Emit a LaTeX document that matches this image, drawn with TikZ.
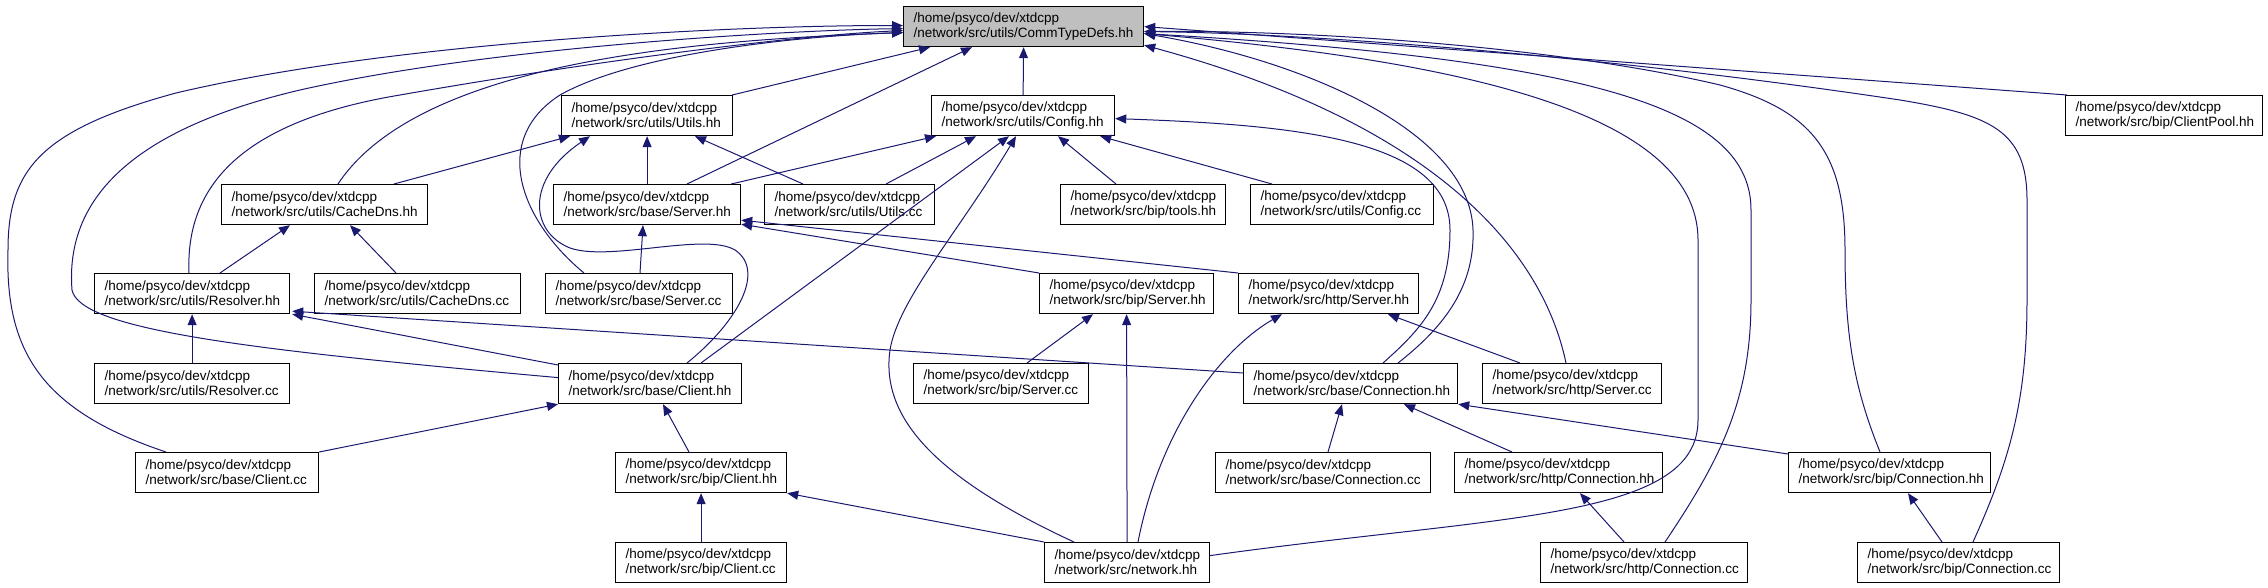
\documentclass[tikz,border=0pt]{standalone}
\usepackage{fontspec}
\usepackage{tikz}
\usetikzlibrary{arrows.meta,calc}
\newfontfamily\graphfont{Liberation Sans}
\newcommand{\filefont}{\graphfont\fontsize{13.5pt}{15pt}\selectfont}
\definecolor{edgeblue}{RGB}{25,25,112}
\definecolor{maingray}{gray}{0.75}

\begin{document}
\begin{tikzpicture}[x=1pt,y=-1pt,
  file/.style={draw=black,line width=1.2pt,anchor=north west,minimum height=40pt,
    inner xsep=10pt,inner ysep=0pt,text width=#1,align=left,font=\filefont},
  dep/.style={draw=edgeblue,line width=1pt,-{Triangle[length=11pt,width=9pt]}}]
\useasboundingbox (0,0) rectangle (2268,588);

% row 1
\node[file=220pt,fill=maingray] (ctd) at (903,6) {/home/psyco/dev/xtdcpp\\/network/src/utils/CommTypeDefs.hh};
% row 2
\node[file=151pt] (utilshh) at (561,95) {/home/psyco/dev/xtdcpp\\/network/src/utils/Utils.hh};
\node[file=163pt] (confighh) at (931,95) {/home/psyco/dev/xtdcpp\\/network/src/utils/Config.hh};
\node[file=177pt] (pool) at (2065,95) {/home/psyco/dev/xtdcpp\\/network/src/bip/ClientPool.hh};
% row 3
\node[file=186pt] (cachehh) at (221,184) {/home/psyco/dev/xtdcpp\\/network/src/utils/CacheDns.hh};
\node[file=167pt] (bserverhh) at (553,184) {/home/psyco/dev/xtdcpp\\/network/src/base/Server.hh};
\node[file=150pt] (utilscc) at (764,184) {/home/psyco/dev/xtdcpp\\/network/src/utils/Utils.cc};
\node[file=145pt] (tools) at (1060,184) {/home/psyco/dev/xtdcpp\\/network/src/bip/tools.hh};
\node[file=163pt] (configcc) at (1250,184) {/home/psyco/dev/xtdcpp\\/network/src/utils/Config.cc};
% row 4
\node[file=175pt] (reshh) at (94,273) {/home/psyco/dev/xtdcpp\\/network/src/utils/Resolver.hh};
\node[file=186pt] (cachecc) at (314,273) {/home/psyco/dev/xtdcpp\\/network/src/utils/CacheDns.cc};
\node[file=167pt] (bservercc) at (545,273) {/home/psyco/dev/xtdcpp\\/network/src/base/Server.cc};
\node[file=154pt] (pserverhh) at (1039,273) {/home/psyco/dev/xtdcpp\\/network/src/bip/Server.hh};
\node[file=160pt] (hserverhh) at (1238,273) {/home/psyco/dev/xtdcpp\\/network/src/http/Server.hh};
% row 5
\node[file=175pt] (rescc) at (94,363) {/home/psyco/dev/xtdcpp\\/network/src/utils/Resolver.cc};
\node[file=163pt] (bclienthh) at (558,363) {/home/psyco/dev/xtdcpp\\/network/src/base/Client.hh};
\node[file=155pt] (pservercc) at (913,363) {/home/psyco/dev/xtdcpp\\/network/src/bip/Server.cc};
\node[file=194pt] (bconnhh) at (1243,363) {/home/psyco/dev/xtdcpp\\/network/src/base/Connection.hh};
\node[file=159pt] (hservercc) at (1482,363) {/home/psyco/dev/xtdcpp\\/network/src/http/Server.cc};
% row 6
\node[file=163pt] (bclientcc) at (135,452) {/home/psyco/dev/xtdcpp\\/network/src/base/Client.cc};
\node[file=151pt] (pclienthh) at (615,452) {/home/psyco/dev/xtdcpp\\/network/src/bip/Client.hh};
\node[file=195pt] (bconncc) at (1215,452) {/home/psyco/dev/xtdcpp\\/network/src/base/Connection.cc};
\node[file=188pt] (hconnhh) at (1454,452) {/home/psyco/dev/xtdcpp\\/network/src/http/Connection.hh};
\node[file=182pt] (pconnhh) at (1788,452) {/home/psyco/dev/xtdcpp\\/network/src/bip/Connection.hh};
% row 7
\node[file=151pt] (pclientcc) at (615,542) {/home/psyco/dev/xtdcpp\\/network/src/bip/Client.cc};
\node[file=145pt] (network) at (1044,542) {/home/psyco/dev/xtdcpp\\/network/src/network.hh};
\node[file=187pt] (hconncc) at (1540,542) {/home/psyco/dev/xtdcpp\\/network/src/http/Connection.cc};
\node[file=182pt] (pconncc) at (1857,542) {/home/psyco/dev/xtdcpp\\/network/src/bip/Connection.cc};

% includes of CommTypeDefs.hh
\draw[dep] ($(utilshh.north east)+(-1,0)$) -- ($(ctd.south west)+(27,0)$);
\draw[dep] (confighh.north) -- (ctd.south);
\draw[dep] ($(bserverhh.north west)+(134,0)$) -- ($(ctd.south west)+(69,0)$);
\draw[dep] ($(pool.north west)+(2,0)$) -- (ctd.east);
\draw[dep] ($(cachehh.north west)+(117,0)$) .. controls (420,60) and (700,40) .. ($(ctd.west)+(0,6)$);
\draw[dep] ($(reshh.north west)+(95,0)$) .. controls (185,180) and (250,120) .. (400,95)
  .. controls (600,60) and (800,35) .. ($(ctd.west)+(0,4)$);
\draw[dep] ($(bclienthh.west)+(0,-6)$) .. controls (250,350) and (80,330) .. (72,290)
  .. controls (65,200) and (130,130) .. (300,90) .. controls (500,45) and (800,30) .. ($(ctd.west)+(0,2)$);
\draw[dep] ($(bclientcc.north west)+(31,0)$) .. controls (40,410) and (5,350) .. (8,250)
  .. controls (8,170) and (40,130) .. (176,93) .. controls (400,40) and (750,25) .. ($(ctd.west)+(0,-1)$);
\draw[dep] ($(bservercc.north west)+(39,0)$) .. controls (520,220) and (490,140) .. (560,95)
  .. controls (640,50) and (820,35) .. ($(ctd.west)+(0,6)$);
\draw[dep] ($(bconnhh.north west)+(155,0)$) .. controls (1440,330) and (1475,290) .. (1473,230)
  .. controls (1470,130) and (1300,60) .. ($(ctd.east)+(0,7)$);
\draw[dep] ($(hservercc.north west)+(84,0)$) .. controls (1540,240) and (1420,120) .. ($(ctd.south east)+(0,-2)$);
\draw[dep] ($(network.east)+(0,-7)$) .. controls (1500,515) and (1698,520) .. (1698,420) -- (1698,240)
  .. controls (1698,110) and (1450,60) .. ($(ctd.east)+(0,7)$);
\draw[dep] ($(hconncc.north west)+(125,0)$) .. controls (1720,460) and (1751,400) .. (1751,300) -- (1751,210)
  .. controls (1751,110) and (1600,60) .. ($(ctd.east)+(0,7)$);
\draw[dep] ($(pconnhh.north west)+(92,0)$) .. controls (1855,390) and (1845,340) .. (1845,250)
  .. controls (1845,150) and (1810,110) .. (1720,85) .. controls (1550,45) and (1300,30) .. ($(ctd.east)+(0,5)$);
\draw[dep] ($(pconncc.north west)+(116,0)$) .. controls (2010,460) and (2027,400) .. (2027,300) -- (2027,200)
  .. controls (2027,130) and (1990,115) .. (1900,100) .. controls (1600,55) and (1300,33) .. ($(ctd.east)+(0,5)$);

% Utils.hh and Config.hh
\draw[dep] ($(cachehh.north west)+(173,0)$) -- ($(utilshh.south west)+(9,0)$);
\draw[dep] (bserverhh.north) -- (utilshh.south);
\draw[dep] ($(utilscc.north west)+(39,0)$) -- ($(utilshh.south west)+(134,0)$);
\draw[dep] ($(bclienthh.north west)+(129,0)$) .. controls (740,320) and (765,270) .. (735,250)
  .. controls (705,232) and (610,262) .. (570,248) .. controls (530,232) and (525,180) .. ($(utilshh.south west)+(29,0)$);
\draw[dep] ($(bserverhh.north east)+(-10,0)$) -- ($(confighh.south west)+(5,0)$);
\draw[dep] ($(utilscc.north west)+(122,0)$) -- ($(confighh.south west)+(45,0)$);
\draw[dep] ($(bclienthh.north west)+(143,0)$) -- ($(confighh.south west)+(78,0)$);
\draw[dep] ($(network.north west)+(30,0)$) .. controls (940,480) and (880,420) .. (890,350)
  .. controls (898,300) and (960,230) .. ($(confighh.south west)+(85,0)$);
\draw[dep] ($(tools.north west)+(56,0)$) -- ($(confighh.south west)+(127,0)$);
\draw[dep] ($(configcc.north west)+(22,0)$) -- ($(confighh.south east)+(-15,0)$);
\draw[dep] ($(bconnhh.north west)+(140,0)$) .. controls (1420,330) and (1450,300) .. (1450,230)
  .. controls (1450,140) and (1300,125) .. ($(confighh.east)+(0,3)$);

% lower rows
\draw[dep] ($(reshh.north west)+(126,0)$) -- ($(cachehh.south west)+(69,0)$);
\draw[dep] ($(cachecc.north west)+(82,0)$) -- ($(cachehh.south west)+(129,0)$);
\draw[dep] ($(bservercc.north west)+(95,0)$) -- ($(bserverhh.south west)+(90,0)$);
\draw[dep] (pserverhh.north west) -- ($(bserverhh.south east)+(0,-1)$);
\draw[dep] (hserverhh.north west) -- ($(bserverhh.south east)+(0,-5)$);
\draw[dep] (rescc.north) -- (reshh.south);
\draw[dep] ($(bclienthh.north west)+(0,2)$) -- ($(reshh.south east)+(2,0)$);
\draw[dep] ($(bconnhh.north west)+(0,10)$) -- ($(reshh.south east)+(2,-3)$);
\draw[dep] (bclientcc.north east) -- (bclienthh.south west);
\draw[dep] ($(pclienthh.north west)+(74,0)$) -- ($(bclienthh.south west)+(105,0)$);
\draw[dep] (pclientcc.north) -- (pclienthh.south);
\draw[dep] (network.north west) -- (pclienthh.south east);
\draw[dep] (network.north) -- (pserverhh.south);
\draw[dep] ($(network.north west)+(94,0)$) .. controls (1160,430) and (1220,350) .. ($(hserverhh.south west)+(44,0)$);
\draw[dep] ($(pservercc.north west)+(114,0)$) -- ($(pserverhh.south west)+(54,0)$);
\draw[dep] ($(hservercc.north west)+(38,0)$) -- ($(hserverhh.south west)+(150,0)$);
\draw[dep] ($(bconncc.north west)+(113,0)$) -- ($(bconnhh.south west)+(99,0)$);
\draw[dep] ($(hconnhh.north west)+(58,0)$) -- ($(bconnhh.south west)+(161,0)$);
\draw[dep] ($(pconnhh.north west)+(0,2)$) -- (bconnhh.south east);
\draw[dep] ($(hconncc.north west)+(84,0)$) -- ($(hconnhh.south west)+(126,0)$);
\draw[dep] ($(pconncc.north west)+(85,0)$) -- ($(pconnhh.south west)+(120,0)$);
\end{tikzpicture}
\end{document}
